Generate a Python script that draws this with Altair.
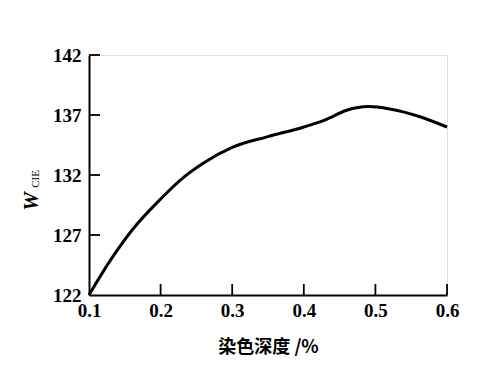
import altair as alt
import pandas as pd

depth = [0.1, 0.13, 0.16, 0.2, 0.23, 0.26, 0.3, 0.35, 0.4, 0.43, 0.46, 0.49, 0.52, 0.56, 0.6]
wcie = [122.0, 124.9, 127.4, 130.0, 131.7, 133.0, 134.3, 135.2, 136.0, 136.6, 137.4, 137.7, 137.5, 136.9, 136.0]
x_ticks = [0.2, 0.3, 0.4, 0.5, 0.6]
y_ticks = [127, 132, 137, 142]

W, H = 358, 240
df = pd.DataFrame({"x": depth, "y": wcie})

xs = alt.Scale(domain=[0.1, 0.6], nice=False, zero=False)
ys = alt.Scale(domain=[122, 142], nice=False, zero=False)

serif = "Liberation Serif"

line = alt.Chart(df).mark_line(color="black", strokeWidth=3, interpolate="monotone").encode(
    x=alt.X("x:Q", scale=xs,
            axis=alt.Axis(values=[0.1, 0.2, 0.3, 0.4, 0.5, 0.6], format=".1f", tickSize=0,
                          labelFont=serif, labelFontSize=19, labelFontWeight="bold",
                          labelColor="black", labelPadding=6, domainColor="black",
                          domainWidth=2, grid=False, title="染色深度 /%",
                          titleFont="Noto Sans CJK SC", titleFontSize=18,
                          titleFontWeight="bold", titleColor="black", titlePadding=18,
                          labelFlush=False)),
    y=alt.Y("y:Q", scale=ys,
            axis=alt.Axis(values=[122, 127, 132, 137, 142], tickSize=0,
                          labelFont=serif, labelFontSize=19, labelFontWeight="bold",
                          labelColor="black", labelPadding=8, domainColor="black",
                          domainWidth=2, grid=False, labelFlush=False,
                          title="W", titleFont=serif, titleFontSize=21,
                          titleFontWeight="bold", titleFontStyle="italic",
                          titleColor="black", titleAngle=270, titleX=-58, titleY=146,
                          titleAlign="center", titleBaseline="middle")),
)

xt = alt.Chart(pd.DataFrame({"t": x_ticks})).mark_rule(color="black", strokeWidth=1.8).encode(
    x=alt.X("t:Q", scale=xs), y=alt.value(H), y2=alt.value(H - 11)
)
yt = alt.Chart(pd.DataFrame({"t": y_ticks})).mark_rule(color="black", strokeWidth=1.8).encode(
    y=alt.Y("t:Q", scale=ys), x=alt.value(0), x2=alt.value(11)
)

lab = pd.DataFrame({"a": [0]})
sub = alt.Chart(lab).mark_text(text="CIE", font=serif, fontSize=11, color="black",
                               align="center", baseline="middle", angle=270).encode(
    x=alt.value(-53), y=alt.value(124)
)

chart = alt.layer(line, xt, yt, sub).properties(
    width=W, height=H,
    autosize=alt.AutoSizeParams(type="none"),
    padding={"left": 89, "top": 55, "right": 53, "bottom": 89},
).configure_view(stroke=None).configure(background="white")

chart.save("out.html", embed_options={"renderer": "svg", "actions": False})
